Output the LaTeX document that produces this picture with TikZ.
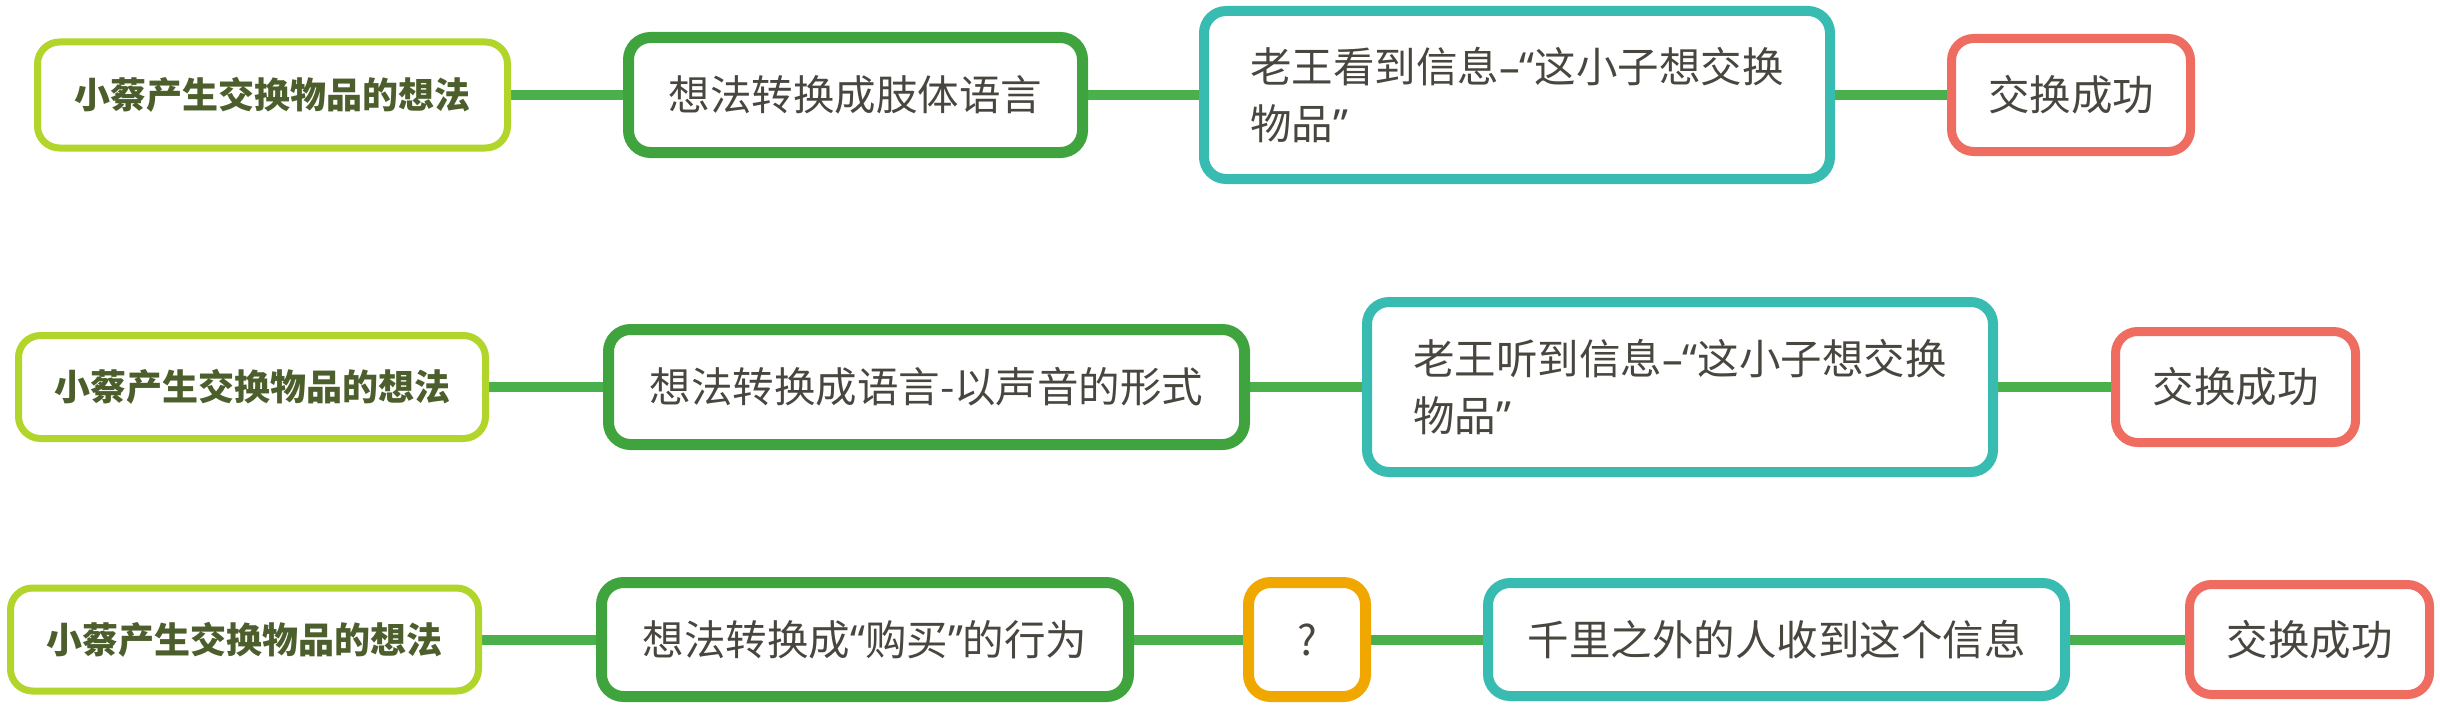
\documentclass[tikz,border=0pt]{standalone}
\usepackage{fontspec}
\setmainfont{Noto Sans CJK SC}
\newfontfamily\qfont{Noto Sans}
\newcommand{\oq}{{\qfont “}}
\newcommand{\cq}{{\qfont ”}}
\newcommand{\ndash}{{\qfont –}}
\usetikzlibrary{backgrounds}
\definecolor{limec}{HTML}{B1D52A}
\definecolor{greenc}{HTML}{3FA43D}
\definecolor{tealc}{HTML}{38BCB1}
\definecolor{salmonc}{HTML}{EF6C61}
\definecolor{orangec}{HTML}{F0A800}
\definecolor{linkc}{HTML}{4AB04C}
\definecolor{txtc}{HTML}{48463F}
\definecolor{olivec}{HTML}{4C5E2B}
\tikzset{
  box/.style={draw, rounded corners=22pt, fill=white, inner sep=0pt, text=txtc,
    font=\fontsize{41.5}{57}\selectfont, align=left},
  limebox/.style={box, draw=limec, line width=7pt, text=olivec,
    font=\bfseries\fontsize{36}{50}\selectfont},
  greenbox/.style={box, draw=greenc, line width=11pt},
  tealbox/.style={box, draw=tealc, line width=10pt},
  salmonbox/.style={box, draw=salmonc, line width=9pt},
  orangebox/.style={box, draw=orangec, line width=11pt},
  link/.style={draw=linkc, line width=10pt}
}
\begin{document}
\begin{tikzpicture}[x=1pt,y=-1pt]
\useasboundingbox (0,0) rectangle (2440,706);
% row 1
\node[limebox, minimum width=470pt, minimum height=106pt] (a1) at (272.5,95) {小蔡产生交换物品的想法};
\node[greenbox, minimum width=454pt, minimum height=115pt] (a2) at (855.5,95) {想法转换成肢体语言};
\node[tealbox, minimum width=626pt, minimum height=168pt] (a3) at (1517,95) {老王看到信息\ndash\oq 这小子想交换\\物品\cq};
\node[salmonbox, minimum width=239pt, minimum height=113pt] (a4) at (2071,95) {交换成功};
% row 2
\node[limebox, minimum width=467pt, minimum height=103pt] (b1) at (252,387) {小蔡产生交换物品的想法};
\node[greenbox, minimum width=636pt, minimum height=115pt] (b2) at (926.5,387) {想法转换成语言-以声音的形式};
\node[tealbox, minimum width=626pt, minimum height=170pt] (b3) at (1680,387) {老王听到信息\ndash\oq 这小子想交换\\物品\cq};
\node[salmonbox, minimum width=240pt, minimum height=111pt] (b4) at (2235.5,387) {交换成功};
% row 3
\node[limebox, minimum width=468pt, minimum height=103pt] (c1) at (244.5,639.5) {小蔡产生交换物品的想法};
\node[greenbox, minimum width=527pt, minimum height=114pt] (c2) at (865,639.5) {想法转换成\oq 购买\cq 的行为};
\node[orangebox, minimum width=117pt, minimum height=114pt] (c3) at (1307,639.5) {?};
\node[tealbox, minimum width=577pt, minimum height=113pt] (c4) at (1776.5,639.5) {千里之外的人收到这个信息};
\node[salmonbox, minimum width=240pt, minimum height=110pt] (c5) at (2309.5,639.5) {交换成功};
\begin{scope}[on background layer]
\draw[link] (a1.east) -- (a2.west);
\draw[link] (a2.east) -- (a3.west);
\draw[link] (a3.east) -- (a4.west);
\draw[link] (b1.east) -- (b2.west);
\draw[link] (b2.east) -- (b3.west);
\draw[link] (b3.east) -- (b4.west);
\draw[link] (c1.east) -- (c2.west);
\draw[link] (c2.east) -- (c3.west);
\draw[link] (c3.east) -- (c4.west);
\draw[link] (c4.east) -- (c5.west);
\end{scope}
\end{tikzpicture}
\end{document}
